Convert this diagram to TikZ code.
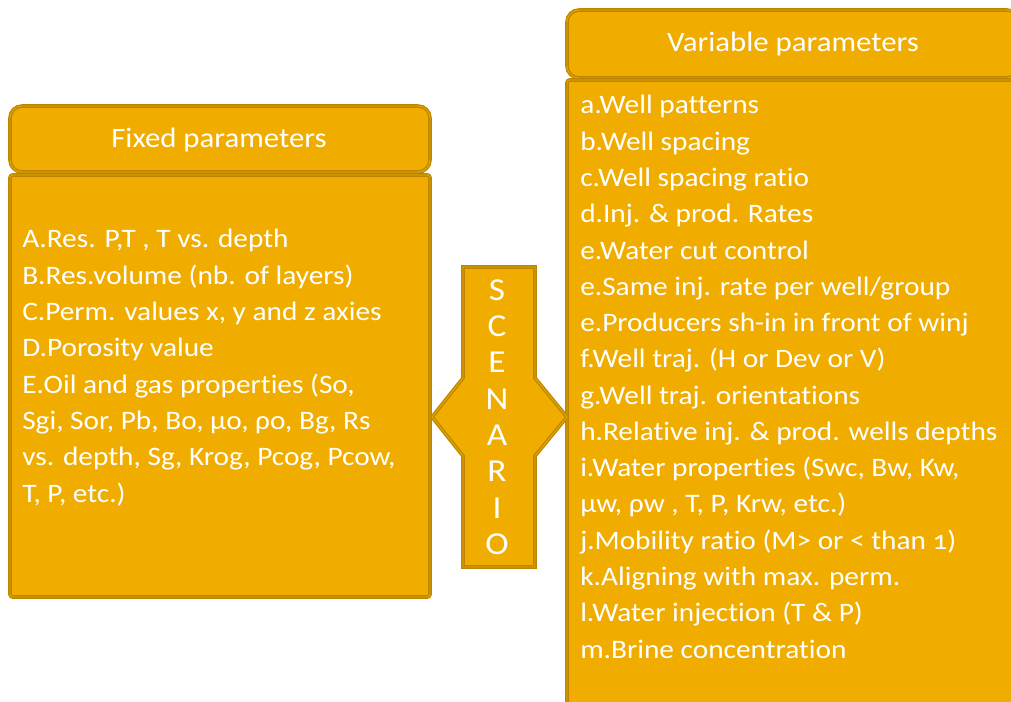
\documentclass[tikz,border=0pt]{standalone}
\usepackage{fontspec}
\setmainfont{Carlito}[Numbers=OldStyle, Ligatures=NoCommon, FakeStretch=1.1]

\definecolor{boxfill}{RGB}{240,173,0}
\definecolor{boxedge}{RGB}{188,134,0}

\begin{document}
\begin{tikzpicture}[
    x=0.75pt, y=-0.75pt,
    % Styles
    panel/.style={fill=boxfill, draw=boxedge, line width=1pt, double=boxfill!85!boxedge, double distance=0.7pt, rounded corners=2pt},
    header/.style={panel, rounded corners=9pt},
    title/.style={text=white, font=\fontsize{21}{25}\selectfont, inner sep=0pt},
    listitem/.style={text=white, font=\fontsize{20}{24}\selectfont, inner sep=0pt, anchor=base west},
    letter/.style={text=white, font=\fontsize{24}{28}\selectfont, inner sep=0pt}
]

    % page frame
    \useasboundingbox (0,0) rectangle (1011,702);
    \fill[white] (0,0) rectangle (1011,702);
    \clip (0,0) rectangle (1011,702);

    % ---------- Fixed parameters ----------
    \draw[header] (10,106) rectangle (430,172);
    \draw[panel] (10,175) rectangle (430,597);
    \node[title] (fixedtitle) at (219,140) {Fixed parameters};

    \foreach \txt [count=\i from 0] in {
        {A.Res. P,T , T vs. depth},
        {B.Res.volume (nb. of layers)},
        {C.Perm. values  x, y and z axies},
        {D.Porosity value},
        {E.Oil and gas properties (So,},
        {Sgi, Sor, Pb, Bo, μo, ρo, Bg, Rs},
        {vs. depth, Sg, Krog, Pcog, Pcow,},
        {T, P, etc.)}} {
        \node[listitem] (fix\i) at (22, 248+\i*36.3) {\txt};
    }

    % ---------- Variable parameters ----------
    \draw[header] (567,10) rectangle (1019,78);
    \draw[panel] (567,80) rectangle (1030,730);
    \node[title] (vartitle) at (793,44) {Variable parameters};

    \foreach \txt [count=\i from 0] in {
        {a.Well patterns},
        {b.Well spacing},
        {c.Well spacing ratio},
        {d.Inj. \& prod. Rates},
        {e.Water cut control},
        {e.Same inj. rate per well/group},
        {e.Producers sh-in in front of winj},
        {f.Well traj. (H or Dev or V)},
        {g.Well traj. orientations},
        {h.Relative inj. \& prod. wells depths},
        {i.Water properties (Swc, Bw, Kw,},
        {μw, ρw , T, P, Krw, etc.)},
        {j.Mobility ratio  (M> or < than 1)},
        {k.Aligning with max. perm.},
        {l.Water injection (T \& P)},
        {m.Brine concentration}} {
        \node[listitem] (var\i) at (580, 114+\i*36.27) {\txt};
    }

    % ---------- Scenario double arrow ----------
    \draw[panel, rounded corners=0pt] (463,267) -- (535,267) -- (535,378) -- (567,417)
        -- (535,456) -- (535,567) -- (463,567) -- (463,456) -- (432,417) -- (463,378) -- cycle;

    \foreach \ch [count=\i from 0] in {S,C,E,N,A,R,I,O} {
        \node[letter] (scen\i) at (497, 290+\i*36.3) {\ch};
    }

\end{tikzpicture}
\end{document}
